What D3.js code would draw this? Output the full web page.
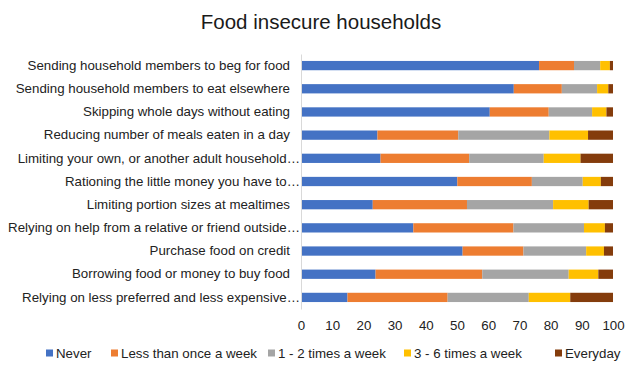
<!DOCTYPE html>
<html>
<head>
<meta charset="utf-8">
<script src="https://cdn.jsdelivr.net/npm/d3@7"></script>
<style>
  body { margin: 0; background: #fff; font-family: "Liberation Sans", Arial, sans-serif; }
</style>
</head>
<body>
<div id="chart"></div>
<script>
const width = 641;
const height = 375;
const margin = { top: 54, right: 28, bottom: 66, left: 301 };
const innerWidth = width - margin.left - margin.right;
const innerHeight = height - margin.top - margin.bottom;

// Data (percent of households)
const strategies = [
    "Sending household members to beg for food",
    "Sending household members to eat elsewhere",
    "Skipping whole days without eating",
    "Reducing number of meals eaten in a day",
    "Limiting your own, or another adult household…",
    "Rationing the little money you have to…",
    "Limiting portion sizes at mealtimes",
    "Relying on help from a relative or friend outside…",
    "Purchase food on credit",
    "Borrowing food or money to buy food",
    "Relying on less preferred and less expensive…"
];
const frequencies = ["Never", "Less than once a week", "1 - 2 times a week", "3 - 6 times a week", "Everyday"];
const never      = [76.3, 68.2, 60.5, 24.5, 25.5, 50.1, 23.0, 36.0, 51.8, 23.9, 14.9];
const lessWeekly = [11.2, 15.4, 18.9, 25.9, 28.4, 23.9, 30.2, 32.1, 19.5, 34.2, 32.1];
const oneTwo     = [ 8.4, 11.3, 13.9, 29.2, 23.9, 16.3, 27.6, 22.6, 20.1, 27.7, 26.0];
const threeSix   = [ 3.1,  3.6,  4.6, 12.4, 11.8,  5.8, 11.4,  6.7,  5.7,  9.5, 13.3];
const everyday   = [ 1.0,  1.5,  2.1,  8.0, 10.4,  3.9,  7.8,  2.6,  2.9,  4.7, 13.7];
const xTicks = [0, 10, 20, 30, 40, 50, 60, 70, 80, 90, 100];
const colors = ["#4472C4", "#ED7D31", "#A5A5A5", "#FFC000", "#843C0C"];

const table = strategies.map((s, i) => ({
    strategy: s,
    "Never": never[i],
    "Less than once a week": lessWeekly[i],
    "1 - 2 times a week": oneTwo[i],
    "3 - 6 times a week": threeSix[i],
    "Everyday": everyday[i]
}));

const svg = d3.select("#chart")
    .append("svg")
    .attr("width", width)
    .attr("height", height);

svg.append("text")
    .attr("x", 321)
    .attr("y", 29)
    .attr("text-anchor", "middle")
    .style("font-size", "20.5px")
    .style("fill", "#1a1a1a")
    .text("Food insecure households");

const g = svg.append("g")
    .attr("transform", `translate(${margin.left},${margin.top})`);

const xScale = d3.scaleLinear().domain([0, 100]).range([0, 312]);
const yScale = d3.scaleBand().domain(strategies).range([0, innerHeight]).paddingInner(0.6).paddingOuter(0.3);
const colorScale = d3.scaleOrdinal().domain(frequencies).range(colors);

const stacked = d3.stack().keys(frequencies)(table);

// Bars
g.selectAll("g.series")
    .data(stacked)
    .enter()
    .append("g")
    .attr("class", "series")
    .attr("fill", d => colorScale(d.key))
    .selectAll("rect")
    .data(d => d)
    .enter()
    .append("rect")
    .attr("x", d => xScale(d[0]))
    .attr("y", d => yScale(d.data.strategy))
    .attr("width", d => xScale(d[1]) - xScale(d[0]))
    .attr("height", yScale.bandwidth());

// Axes
const yAxis = g.append("g")
    .call(d3.axisLeft(yScale).tickSize(0).tickPadding(11));
yAxis.select(".domain").attr("stroke", "#d9d9d9");
yAxis.selectAll("text")
    .style("font-size", "13.3px")
    .style("font-family", "'Liberation Sans', Arial, sans-serif")
    .style("fill", "#222")
    .attr("x", d => d.endsWith("…") ? -1 : -11);

const xAxis = g.append("g")
    .attr("transform", `translate(0,${innerHeight})`)
    .call(d3.axisBottom(xScale).tickValues(xTicks).tickSize(0).tickPadding(12));
xAxis.select(".domain").remove();
xAxis.selectAll("text")
    .style("font-size", "13.3px")
    .style("font-family", "'Liberation Sans', Arial, sans-serif")
    .style("fill", "#222");

// Legend
const legendX = [46, 111, 268, 404, 555];
const legend = svg.append("g")
    .selectAll("g")
    .data(frequencies)
    .enter()
    .append("g")
    .attr("transform", (d, i) => `translate(${legendX[i]},353)`);

legend.append("rect")
    .attr("x", 0)
    .attr("y", -3.5)
    .attr("width", 7)
    .attr("height", 7)
    .attr("fill", d => colorScale(d));

legend.append("text")
    .attr("x", 10)
    .attr("y", 4.5)
    .style("font-size", "13.3px")
    .style("fill", "#222")
    .text(d => d);
</script>
</body>
</html>
